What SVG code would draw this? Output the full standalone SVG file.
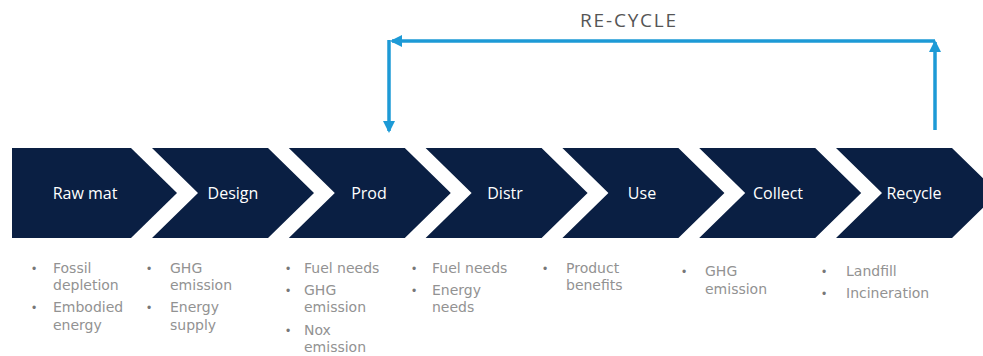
<svg xmlns="http://www.w3.org/2000/svg" width="983" height="356" viewBox="0 0 983 356">
<style>
.chev{fill:#0a1f43}
.lbl{font-family:"Open Sans","Liberation Sans",sans-serif;font-size:16px;fill:#ffffff;text-anchor:middle}
.b{font-family:"DejaVu Sans","Liberation Sans",sans-serif;font-size:14px;fill:#929292}
.dot{font-family:"Liberation Sans",sans-serif;font-size:12px;fill:#777}
.title{font-family:"Open Sans","Liberation Sans",sans-serif;font-size:19px;fill:#555;letter-spacing:1.8px;text-anchor:middle}
.arr{stroke:#1d9ad6;stroke-width:3.5;fill:none}
</style>
<defs>
<marker id="ah" viewBox="0 0 12 12" refX="10" refY="6" markerWidth="12" markerHeight="12" markerUnits="userSpaceOnUse" orient="auto">
<path d="M0,0 L12,6 L0,12 Z" fill="#1d9ad6"/>
</marker>
</defs>
<rect width="983" height="356" fill="#ffffff"/>
<text class="title" x="629" y="27">RE-CYCLE</text>
<g id="connectors">
<line class="arr" x1="935" y1="130" x2="935" y2="42" marker-end="url(#ah)"/>
<line class="arr" x1="935" y1="41" x2="392" y2="41" marker-end="url(#ah)"/>
<line class="arr" x1="389" y1="40" x2="389" y2="131" marker-end="url(#ah)"/>
</g>
<g id="rawmat">
<path class="chev" d="M12,148 H131 L177,193 L131,238 H12 Z"/>
<text class="lbl" x="85" y="199">Raw mat</text>
<text class="dot" x="32" y="273">•</text><text class="dot" x="32" y="312">•</text>
<text class="b" x="53" y="273">Fossil<tspan x="53" dy="17">depletion</tspan></text>
<text class="b" x="53" y="312">Embodied<tspan x="53" dy="18">energy</tspan></text>
</g>
<g id="design">
<path class="chev" d="M152,148 H268 L314,193 L268,238 H152 L198,193 Z"/>
<text class="lbl" x="233" y="199">Design</text>
<text class="dot" x="147" y="273">•</text><text class="dot" x="147" y="312">•</text>
<text class="b" x="170" y="273">GHG<tspan x="170" dy="17">emission</tspan></text>
<text class="b" x="170" y="312">Energy<tspan x="170" dy="18">supply</tspan></text>
</g>
<g id="prod">
<path class="chev" d="M288.8,148 H404.8 L450.8,193 L404.8,238 H288.8 L334.8,193 Z"/>
<text class="lbl" x="369" y="199">Prod</text>
<text class="dot" x="286" y="273">•</text><text class="dot" x="286" y="295">•</text><text class="dot" x="286" y="335">•</text>
<text class="b" x="304" y="273">Fuel needs</text>
<text class="b" x="304" y="295">GHG<tspan x="304" dy="17">emission</tspan></text>
<text class="b" x="304" y="335">Nox<tspan x="304" dy="17">emission</tspan></text>
</g>
<g id="distr">
<path class="chev" d="M425.6,148 H541.6 L587.6,193 L541.6,238 H425.6 L471.6,193 Z"/>
<text class="lbl" x="505" y="199">Distr</text>
<text class="dot" x="412" y="273">•</text><text class="dot" x="412" y="295">•</text>
<text class="b" x="432" y="273">Fuel needs</text>
<text class="b" x="432" y="295">Energy<tspan x="432" dy="17">needs</tspan></text>
</g>
<g id="use">
<path class="chev" d="M562.4,148 H678.4 L724.4,193 L678.4,238 H562.4 L608.4,193 Z"/>
<text class="lbl" x="642" y="199">Use</text>
<text class="dot" x="543" y="273">•</text>
<text class="b" x="566" y="273">Product<tspan x="566" dy="17">benefits</tspan></text>
</g>
<g id="collect">
<path class="chev" d="M699.2,148 H815.2 L861.2,193 L815.2,238 H699.2 L745.2,193 Z"/>
<text class="lbl" x="778" y="199">Collect</text>
<text class="dot" x="682" y="276">•</text>
<text class="b" x="705" y="276">GHG<tspan x="705" dy="18">emission</tspan></text>
</g>
<g id="recycle">
<path class="chev" d="M836,148 H952 L998,193 L952,238 H836 L882,193 Z"/>
<text class="lbl" x="914" y="199">Recycle</text>
<text class="dot" x="822" y="276">•</text><text class="dot" x="822" y="298">•</text>
<text class="b" x="846" y="276">Landfill</text>
<text class="b" x="846" y="298">Incineration</text>
</g>
</svg>
